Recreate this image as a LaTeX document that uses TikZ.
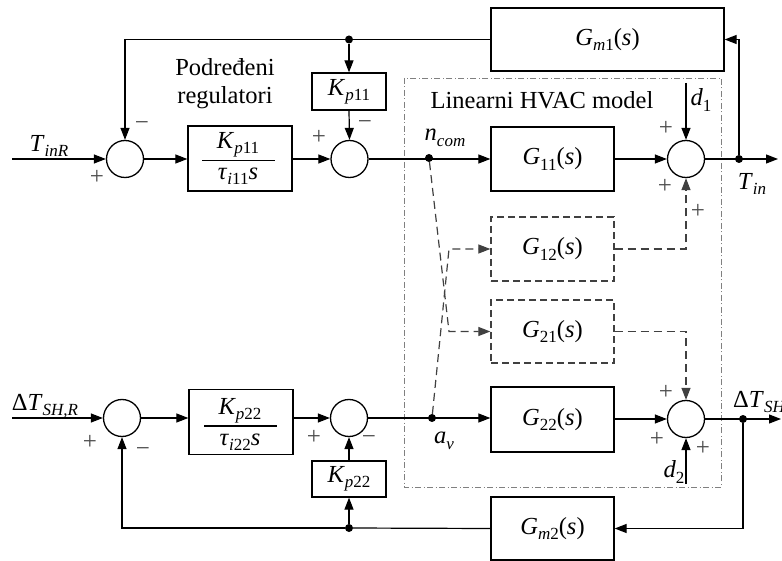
\documentclass[tikz,border=0pt]{standalone}
\usepackage{fontspec}
\setmainfont{Liberation Serif}
\usetikzlibrary{arrows.meta}
\newcommand\vi[1]{\textit{#1}}
\newcommand\sbs[1]{\raisebox{-0.22em}{\fontsize{17}{17}\selectfont #1}}
\begin{document}
\begin{tikzpicture}[x=1pt,y=-1pt,
  font=\fontsize{24.5}{28}\selectfont,
  blockbox/.style={draw,line width=1.3pt,inner sep=0pt,minimum width=123pt,minimum height=64pt},
  dblock/.style={blockbox,draw=black!75,dash pattern=on 7pt off 4pt},
  sumc/.style={circle,draw,line width=1.3pt,minimum size=37pt,inner sep=0pt},
  wire/.style={line width=1.2pt},
  arr/.style={wire,-{Triangle[length=12pt,width=9pt]}},
  dwire/.style={line width=1.2pt,draw=black!75,dash pattern=on 8pt off 5pt},
  darr/.style={dwire,-{Triangle[length=12pt,width=9pt]}},
  dotn/.style={circle,fill,inner sep=0pt,minimum size=8pt},
  sgn/.style={font=\fontsize{25}{25}\selectfont,text=black!70,inner sep=0pt},
  lbl/.style={inner sep=0pt}]
\useasboundingbox (0,0) rectangle (782,561);

% HVAC frame
\draw[draw=black!50,line width=0.9pt,dash pattern=on 6pt off 2.5pt on 1pt off 2.5pt] (404,78) rectangle (721,487);
\node[lbl] (hvac) at (542,100) {Linearni HVAC model};
\node[lbl,align=center] (pod) at (225,84) {Podređeni\\regulatori};

% top row
\coordinate (in1) at (12,159);
\node[sumc] (s1) at (125,159) {};
\node[blockbox,minimum width=104pt,minimum height=65pt] (c1) at (240,158.5) {};
\node[lbl] (c1n) at (238,145) {\vi{K}\sbs{\vi{p}11}};
\node[lbl] (c1d) at (238,176) {\vi{τ}\sbs{\vi{i}11}\vi{s}};
\draw[wire] ([xshift=-38pt,yshift=-2pt]c1.center) -- ([xshift=35pt,yshift=-2pt]c1.center);
\node[sumc] (s2) at (349.5,159) {};
\node[blockbox,minimum width=74pt,minimum height=37pt] (kp11) at (349,91.5) {\vi{K}\sbs{\vi{p}11}};
\node[dotn] (t1) at (349,39.5) {};
\node[blockbox,minimum width=233pt,minimum height=63pt] (gm1) at (607.5,39.5) {\vi{G}\sbs{\vi{m}1}(\vi{s})};
\node[dotn] (ncom) at (429,158) {};
\node[blockbox] (g11) at (552.5,159) {\vi{G}\sbs{11}(\vi{s})};
\node[sumc] (s3) at (686,159) {};
\coordinate (d1c) at (686,83);
\node[dotn] (o1) at (739,159) {};
\coordinate (out1) at (778,159);

% cross blocks
\node[dblock] (g12) at (552.5,249) {\vi{G}\sbs{12}(\vi{s})};
\node[dblock,minimum height=63pt] (g21) at (552.5,331.5) {\vi{G}\sbs{21}(\vi{s})};
\coordinate (k1) at (449,331.5);
\coordinate (k2) at (449,249);

% bottom row
\coordinate (in2) at (12,418);
\node[sumc] (s5) at (122,418) {};
\node[blockbox,minimum width=104pt,minimum height=65pt] (c2) at (241,422) {};
\node[lbl] (c2n) at (240,411) {\vi{K}\sbs{\vi{p}22}};
\node[lbl] (c2d) at (240,442) {\vi{τ}\sbs{\vi{i}22}\vi{s}};
\draw[wire] ([xshift=-37pt,yshift=-4pt]c2.center) -- ([xshift=36pt,yshift=-4pt]c2.center);
\node[sumc] (s6) at (349,418) {};
\node[blockbox,minimum width=74pt,minimum height=36pt] (kp22) at (349,479) {\vi{K}\sbs{\vi{p}22}};
\node[dotn] (t2) at (349,528) {};
\node[blockbox,minimum height=63pt] (gm2) at (552.5,528.5) {\vi{G}\sbs{\vi{m}2}(\vi{s})};
\node[dotn] (av) at (432,418) {};
\node[blockbox,minimum height=65pt] (g22) at (552.5,419.5) {\vi{G}\sbs{22}(\vi{s})};
\node[sumc] (s4) at (686,419) {};
\coordinate (d2c) at (686,484);
\node[dotn] (o2) at (743,419) {};
\coordinate (out2) at (781,419);

% top connections
\draw[arr] (in1) -- (s1.west);
\draw[arr] (s1.east) -- (c1.west |- s1.east);
\draw[arr] (c1.east |- s2.west) -- (s2.west);
\draw[arr] (s2.east) -- (g11.west);
\draw[arr] (g11.east) -- (s3.west);
\draw[arr] (s3.east) -- (out1);
\draw[arr] (o1) |- (gm1.east);
\draw[wire] (gm1.west) -- (t1);
\draw[arr] (t1) -| (s1.north);
\draw[arr] (t1) -- (kp11.north);
\draw[arr] (kp11.south) -- (s2.north);
\draw[arr] (d1c) -- (s3.north);

% dashed couplings
\draw[darr] (ncom) -- (k1) -- (g21.west);
\draw[darr] (av) -- (k2) -- (g12.west);
\draw[darr] (g12.east) -| (s3.south);
\draw[darr] (g21.east) -| (s4.north);

% bottom connections
\draw[arr] (in2) -- (s5.west);
\draw[arr] (s5.east) -- (c2.west |- s5.east);
\draw[arr] (c2.east |- s6.west) -- (s6.west);
\draw[arr] (s6.east) -- (g22.west |- s6.east);
\draw[arr] (g22.east |- s4.west) -- (s4.west);
\draw[arr] (s4.east) -- (out2);
\draw[arr] (o2) |- (gm2.east);
\draw[wire] (gm2.west) -- (t2);
\draw[arr] (t2) -| (s5.south);
\draw[arr] (t2) -- (kp22.south);
\draw[arr] (kp22.north) -- (s6.south);
\draw[arr] (d2c) -- (s4.south);

% labels
\node[lbl] (lTinR) at (49,146) {\vi{T}\sbs{\vi{inR}}};
\node[lbl] (lncom) at (445,138) {\vi{n}\sbs{\vi{com}}};
\node[lbl] (ld1) at (701,100) {\vi{d}\sbs{1}};
\node[lbl] (lTin) at (752,184) {\vi{T}\sbs{\vi{in}}};
\node[lbl] (lTSHR) at (45,406) {Δ\vi{T}\sbs{\vi{SH,R}}};
\node[lbl] (lav) at (444,441) {\vi{a}\sbs{\vi{v}}};
\node[lbl] (ld2) at (674,472) {\vi{d}\sbs{2}};
\node[lbl,anchor=west] (lTSH) at (733,402) {Δ\vi{T}\sbs{\vi{SH}}};

% signs
\node[sgn] at (97,177) {+};
\node[sgn] at (142,126) {−};
\node[sgn] at (319,137) {+};
\node[sgn] at (365,125) {−};
\node[sgn] at (666,128) {+};
\node[sgn] at (665,186) {+};
\node[sgn] at (698,211) {+};
\node[sgn] at (90,442) {+};
\node[sgn] at (143,452) {−};
\node[sgn] at (314,437) {+};
\node[sgn] at (369,440) {−};
\node[sgn] at (666,392) {+};
\node[sgn] at (657,439) {+};
\node[sgn] at (703,448) {+};
\end{tikzpicture}
\end{document}
